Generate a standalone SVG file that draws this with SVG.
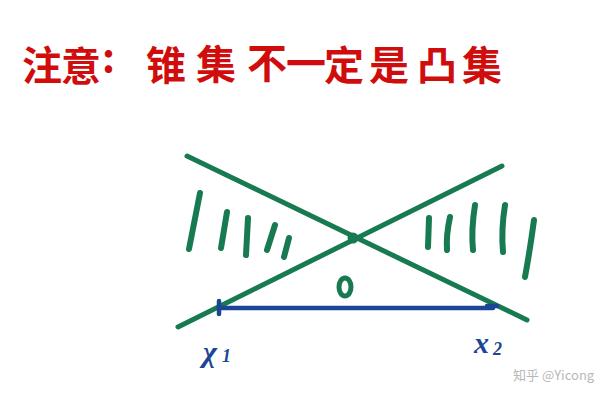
<svg xmlns="http://www.w3.org/2000/svg" width="600" height="402" viewBox="0 0 600 402">
<style>
.t{font-family:"Noto Sans CJK SC","Noto Sans",sans-serif;font-weight:bold;font-size:40px;fill:#d00d0d}
.g{stroke:#177a50;stroke-width:5;stroke-linecap:round;fill:none}
.h{stroke:#177a50;stroke-width:6;stroke-linecap:round;fill:none}
.b{stroke:#1c4595;stroke-width:4.5;stroke-linecap:round;fill:none}
.lb{font-family:"Liberation Serif",serif;font-style:italic;fill:#1c4595;font-weight:bold}
.wm{font-family:"Noto Sans CJK SC","Noto Sans",sans-serif;font-size:13px;fill:#b8b8b8}
</style>
<rect width="600" height="402" fill="#fff"/>
<g id="title">
<text class="t" x="22" y="80" font-size="38">注</text>
<text class="t" x="61" y="81" font-size="38">意</text>
<text class="t" x="102" y="72" font-size="28">:</text>
<text class="t" x="146" y="80">锥</text>
<text class="t" x="196" y="79">集</text>
<text class="t" x="247" y="78">不</text>
<text class="t" x="286" y="78">一</text>
<text class="t" x="324" y="80">定</text>
<text class="t" x="369" y="80">是</text>
<text class="t" x="417" y="80">凸</text>
<text class="t" x="462" y="80">集</text>
</g>
<g id="cone">
<line class="g" x1="187" y1="156" x2="527" y2="320"/>
<line class="g" x1="178" y1="327" x2="502" y2="166"/>
<circle cx="353" cy="238" r="5.5" fill="#177a50"/>
<path class="h" d="M200 193 L189 249"/>
<path class="h" d="M227 212 L221 248"/>
<path class="h" d="M248 218 L246 255"/>
<path class="h" d="M275 225 L267 250"/>
<path class="h" d="M289 238 L284 257"/>
<path class="h" d="M429 218 L428 247"/>
<path class="h" d="M450 217 Q446 235 447 250"/>
<path class="h" d="M475 205 Q471 230 473 250"/>
<path class="h" d="M505 205 Q501 230 503 252"/>
<path class="h" d="M534 220 Q530 250 525 277"/>
<ellipse class="g" cx="345" cy="287" rx="6" ry="9" stroke-width="5"/>
</g>
<g id="segment">
<line class="b" x1="219" y1="308" x2="493" y2="308"/>
<line class="b" x1="219" y1="301" x2="219" y2="314" stroke-width="6"/>
<line class="b" x1="487" y1="306" x2="497" y2="306"/>
<text class="lb" x="203" y="362" font-size="30">χ</text>
<text class="lb" x="222" y="362" font-size="18">1</text>
<text class="lb" x="474" y="353" font-size="30">x</text>
<text class="lb" x="493" y="355" font-size="18">2</text>
</g>
<text class="wm" x="513" y="380">知乎 @Yicong</text>
</svg>
